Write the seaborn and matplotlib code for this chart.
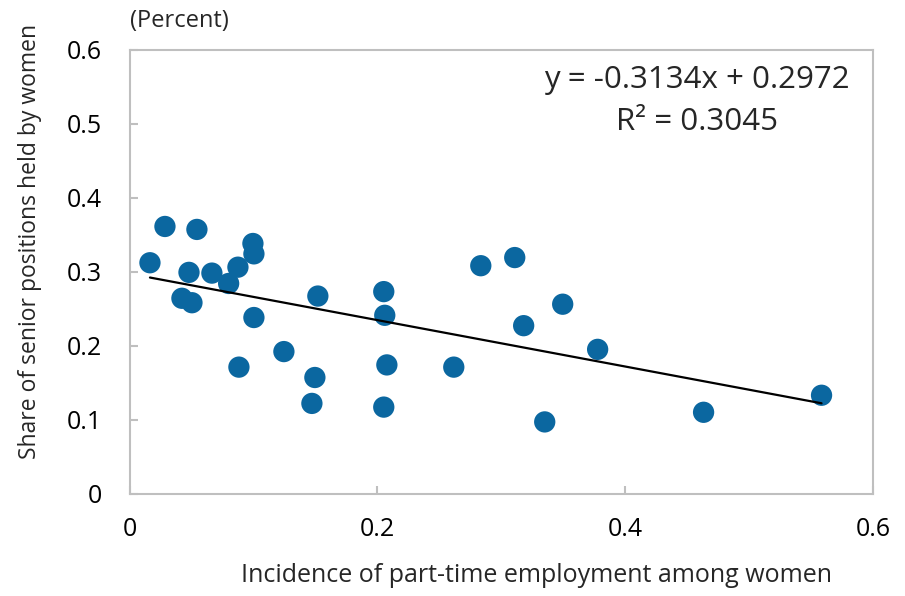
import numpy as np
import pandas as pd
import matplotlib
matplotlib.use("Agg")
import matplotlib.pyplot as plt
import seaborn as sns

# Incidence of part-time employment among women (x) and share of senior positions held by women (y)
part_time = [0.0165, 0.0286, 0.0544, 0.0480, 0.0665, 0.0875, 0.0800, 0.0996, 0.1004, 0.0423,
             0.0504, 0.1004, 0.1246, 0.0883, 0.1520, 0.2052, 0.2060, 0.1496, 0.1472, 0.2077,
             0.2052, 0.2617, 0.2835, 0.3109, 0.3496, 0.3181, 0.3778, 0.3351, 0.4633, 0.5585]
senior_share = [0.312, 0.361, 0.357, 0.299, 0.298, 0.306, 0.284, 0.338, 0.324, 0.264,
                0.258, 0.238, 0.192, 0.171, 0.267, 0.273, 0.241, 0.157, 0.122, 0.174,
                0.117, 0.171, 0.308, 0.319, 0.256, 0.227, 0.195, 0.097, 0.110, 0.133]

# Linear fit reported on the chart
slope = -0.3134
intercept = 0.2972
r_squared = 0.3045

x_ticks = [0, 0.2, 0.4, 0.6]
x_tick_labels = ["0", "0.2", "0.4", "0.6"]
y_ticks = [0, 0.1, 0.2, 0.3, 0.4, 0.5, 0.6]
y_tick_labels = ["0", "0.1", "0.2", "0.3", "0.4", "0.5", "0.6"]

df = pd.DataFrame({"part_time": part_time, "senior_share": senior_share})

sns.set_theme(style="white")
plt.rcParams["font.family"] = ["Open Sans", "DejaVu Sans"]

fig = plt.figure(figsize=(9.05, 5.96), dpi=100)
ax = fig.add_axes([0.1431, 0.1716, 0.8215, 0.7453])

sns.scatterplot(data=df, x="part_time", y="senior_share", ax=ax,
                s=235, color="#0B67A0", edgecolor="none", linewidth=0, zorder=3)

xs = np.array([min(part_time), max(part_time)])
sns.lineplot(x=xs, y=slope * xs + intercept, ax=ax, color="black", linewidth=1.6, zorder=4)

ax.set_xlim(0, 0.6)
ax.set_ylim(0, 0.6)
ax.set_xticks(x_ticks)
ax.set_xticklabels(x_tick_labels)
ax.set_yticks(y_ticks)
ax.set_yticklabels(y_tick_labels)

for side in ["left", "right", "top", "bottom"]:
    ax.spines[side].set_color("#BFBFBF")
    ax.spines[side].set_linewidth(1.5)

ax.tick_params(axis="both", direction="in", length=6, width=1.5, color="#BFBFBF",
               labelsize=18, labelcolor="black")
ax.tick_params(axis="y", pad=20, left=True)
ax.tick_params(axis="x", pad=17, bottom=True)

ax.set_xlabel("Incidence of part-time employment among women", fontsize=18)
ax.set_ylabel("Share of senior positions held by women", fontsize=16.5)
ax.xaxis.set_label_coords(0.548, -0.155)
ax.yaxis.set_label_coords(-0.118, 0.567)

fig.text(0.1436, 0.965, "(Percent)", fontsize=17, ha="left", va="center")

ax.text(0.763, 0.932, f"y = {slope}x + {intercept}",
        transform=ax.transAxes, ha="center", va="center", fontsize=22.5)
ax.text(0.763, 0.837, f"R\u00b2 = {r_squared}",
        transform=ax.transAxes, ha="center", va="center", fontsize=22.5)

fig.savefig("out.png", dpi=100)
